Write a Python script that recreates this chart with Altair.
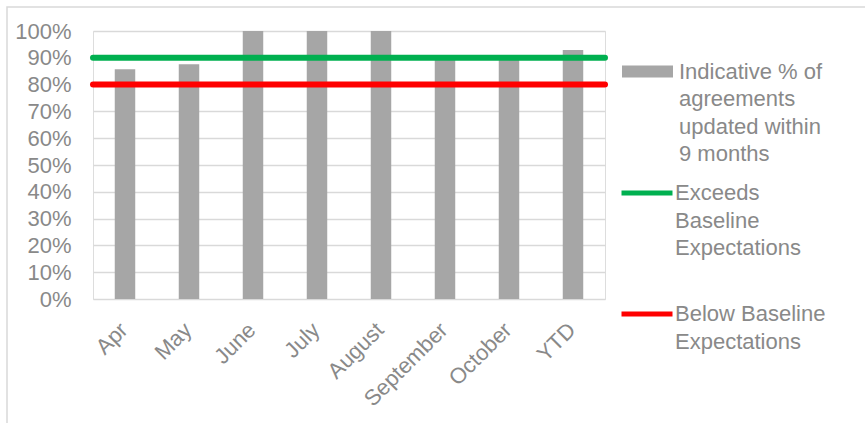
import altair as alt
import pandas as pd

# ---- data ----
months = ["Apr", "May", "June", "July", "August", "September", "October", "YTD"]
pct_updated = [0.857, 0.876, 1.0, 1.0, 1.0, 0.90, 0.90, 0.929]
bar_series = "Indicative % of agreements updated within 9 months"

threshold_names = ["Exceeds Baseline Expectations", "Below Baseline Expectations"]
threshold_values = [0.90, 0.80]

y_ticks = [0, 0.1, 0.2, 0.3, 0.4, 0.5, 0.6, 0.7, 0.8, 0.9, 1.0]

# wrapped legend labels (as in the reference)
legend_lines = {
    bar_series: ["Indicative % of", "agreements", "updated within", "9 months"],
    threshold_names[0]: ["Exceeds", "Baseline", "Expectations"],
    threshold_names[1]: ["Below Baseline", "Expectations"],
}

# ---- styling ----
BAR = "#a6a6a6"
GREEN = "#00b050"
RED = "#ff0000"
TEXT = "#898989"
GRID = "#d9d9d9"
FONT = "Liberation Sans"
FS = 22

bar_df = pd.DataFrame({"month": months, "pct": pct_updated, "series": [bar_series] * len(months)})
thr_df = pd.DataFrame({"name": threshold_names, "value": threshold_values})


def label_expr(names):
    expr = "datum.label"
    for n in reversed(names):
        arr_s = "[" + ",".join("'" + s + "'" for s in legend_lines[n]) + "]"
        expr = f"datum.label == '{n}' ? {arr_s} : ({expr})"
    return expr


y_scale = alt.Scale(domain=[0, 1])
y_axis = alt.Axis(
    title=None, format=".0%", values=y_ticks, ticks=False, tickSize=0,
    domain=False, labelPadding=22, gridColor=GRID, gridWidth=1.5,
    labelOverlap=False, labelFontSize=FS, labelColor=TEXT, labelFont=FONT,
)

bars = alt.Chart(bar_df).mark_bar().encode(
    x=alt.X(
        "month:N",
        sort=months,
        scale=alt.Scale(paddingInner=0.68, paddingOuter=0.34),
        axis=alt.Axis(
            title=None, labelAngle=-45, labelAlign="right", labelBaseline="top",
            labelPadding=20, labelOffset=-8, ticks=False, domain=False, grid=False,
            labelFontSize=FS, labelColor=TEXT, labelFont=FONT,
        ),
    ),
    y=alt.Y("pct:Q", scale=y_scale, axis=y_axis),
    fill=alt.Fill(
        "series:N",
        scale=alt.Scale(domain=[bar_series], range=[BAR]),
        legend=alt.Legend(
            title=None, orient="none", legendX=529, legendY=15, padding=0,
            symbolType="M-1,-0.235H1V0.235H-1Z", symbolSize=2601, symbolStrokeWidth=0,
            labelExpr=label_expr([bar_series]), labelFontSize=FS, labelColor=TEXT,
            labelFont=FONT, labelOffset=6, labelLimit=400,
        ),
    ),
)

rules = alt.Chart(thr_df).mark_rule(strokeWidth=6, strokeCap="round").encode(
    y=alt.Y("value:Q", scale=y_scale, axis=y_axis),
    stroke=alt.Stroke(
        "name:N",
        scale=alt.Scale(domain=threshold_names, range=[GREEN, RED]),
        legend=alt.Legend(
            title=None, orient="none", legendX=526, legendY=134, padding=0,
            symbolType="stroke", symbolSize=2601, symbolStrokeWidth=5,
            rowPadding=27, labelExpr=label_expr(threshold_names),
            labelFontSize=FS, labelColor=TEXT, labelFont=FONT, labelOffset=0,
            labelLimit=400,
        ),
    ),
)

frame = alt.Chart(pd.DataFrame({"f": [0]})).mark_rect(
    fill="transparent", stroke=GRID, strokeWidth=1.5
).encode(x=alt.value(-86), y=alt.value(-24), x2=alt.value(900), y2=alt.value(500))

chart = (
    alt.layer(frame, bars, rules)
    .resolve_scale(y="shared")
    .properties(
        width=512, height=268,
        autosize=alt.AutoSizeParams(type="none"),
        padding={"left": 93, "top": 31, "right": 260, "bottom": 124},
    )
    .configure_view(stroke="transparent", strokeWidth=0)
    .configure(style={"guide-label": {"lineHeight": 27.5}})
)

chart.save("out.html", embed_options={"renderer": "svg", "actions": False})
